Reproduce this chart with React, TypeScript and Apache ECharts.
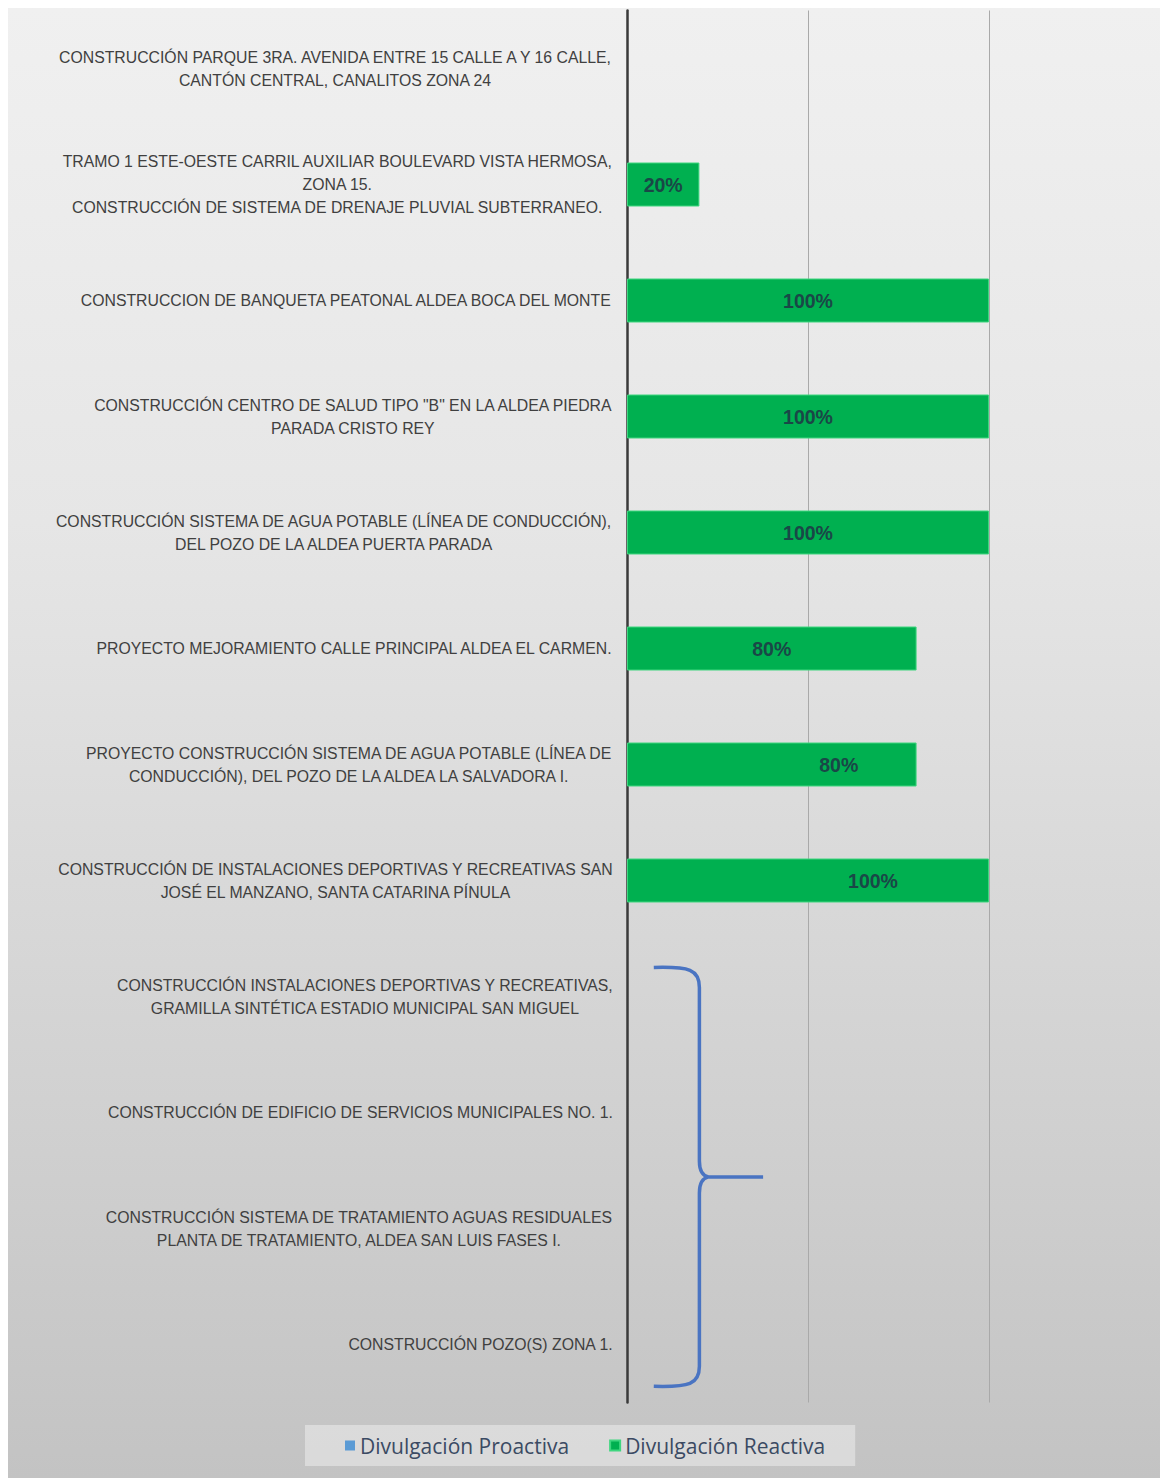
import React, { useEffect, useRef } from "react";
import * as echarts from "echarts";

const categories: string[] = [
  "CONSTRUCCIÓN PARQUE 3RA. AVENIDA ENTRE 15 CALLE A Y 16 CALLE,\nCANTÓN CENTRAL, CANALITOS ZONA 24",
  "TRAMO 1 ESTE-OESTE CARRIL AUXILIAR BOULEVARD VISTA HERMOSA,\nZONA 15.\nCONSTRUCCIÓN DE SISTEMA DE DRENAJE PLUVIAL SUBTERRANEO.",
  "CONSTRUCCION DE BANQUETA PEATONAL ALDEA BOCA DEL MONTE",
  "CONSTRUCCIÓN CENTRO DE SALUD TIPO \"B\" EN LA ALDEA PIEDRA\nPARADA CRISTO REY",
  "CONSTRUCCIÓN SISTEMA DE AGUA POTABLE (LÍNEA DE CONDUCCIÓN),\nDEL POZO DE LA ALDEA PUERTA PARADA",
  "PROYECTO MEJORAMIENTO CALLE PRINCIPAL ALDEA EL CARMEN.",
  "PROYECTO CONSTRUCCIÓN SISTEMA DE AGUA POTABLE (LÍNEA DE\nCONDUCCIÓN), DEL POZO DE LA ALDEA LA SALVADORA I.",
  "CONSTRUCCIÓN DE INSTALACIONES DEPORTIVAS Y RECREATIVAS SAN\nJOSÉ EL MANZANO, SANTA CATARINA PÍNULA",
  "CONSTRUCCIÓN INSTALACIONES DEPORTIVAS Y RECREATIVAS,\nGRAMILLA SINTÉTICA ESTADIO MUNICIPAL SAN MIGUEL",
  "CONSTRUCCIÓN DE EDIFICIO DE SERVICIOS MUNICIPALES NO. 1.",
  "CONSTRUCCIÓN SISTEMA DE TRATAMIENTO AGUAS RESIDUALES\nPLANTA DE TRATAMIENTO, ALDEA SAN LUIS FASES I.",
  "CONSTRUCCIÓN POZO(S) ZONA 1.",
];

const proactiva: (number | null)[] = [null, null, null, null, null, null, null, null, null, null, null, null];
const reactiva: (number | null)[] = [null, 0.2, 1, 1, 1, 0.8, 0.8, 1, null, null, null, null];

const seriesNames = ["Divulgación Proactiva", "Divulgación Reactiva"];

// brace annotation spans these category indices
const braceFrom = 8;
const braceTo = 11;

export default function App() {
  const ref = useRef<HTMLDivElement>(null);

  useEffect(() => {
    if (!ref.current) return;
    const chart = echarts.init(ref.current, null, { renderer: "svg" });

    const labelNudge: Record<number, number[]> = { 6: [67, 0], 7: [65, 0] };
    const reactData = reactiva.map((v, i) =>
      labelNudge[i] ? { value: v, label: { offset: labelNudge[i] } } : v
    );

    const option: any = {
      animation: false,
      backgroundColor: "transparent",
      grid: { left: 619, right: 0, top: 2.5, bottom: 75.5, containLabel: false },
      legend: {
        data: seriesNames,
        left: 297,
        top: 1417,
        icon: "rect",
        itemWidth: 10,
        itemHeight: 10,
        itemGap: 40,
        padding: [10, 30, 10, 40],
        backgroundColor: "rgba(236,236,236,0.55)",
        textStyle: { fontFamily: "Open Sans", fontSize: 21, color: "#3b4a63" },
      },
      xAxis: {
        type: "value",
        min: 0,
        max: 1.478,
        interval: 0.5,
        axisLabel: { show: false },
        axisLine: { show: false },
        axisTick: { show: false },
        splitLine: { show: true, lineStyle: { color: "#a9a9a9", width: 1 } },
      },
      yAxis: {
        type: "category",
        inverse: true,
        data: categories,
        axisLine: { show: true, lineStyle: { color: "#3a3a3a", width: 2.5 } },
        axisTick: { show: false },
        splitLine: { show: false },
        axisLabel: {
          margin: 14,
          align: "right",
          formatter: (v: string) =>
            v.split("\n").map((l) => `{c|${l}}`).join("\n"),
          rich: {
            c: {
              align: "center",
              fontFamily: "Liberation Sans",
              fontSize: 15.8,
              lineHeight: 23,
              color: "#404040",
            },
          },
        },
      },
      series: [
        {
          name: seriesNames[0],
          type: "bar",
          stack: "s",
          barWidth: 44,
          itemStyle: { color: "#5b9bd5" },
          data: proactiva,
        },
        {
          name: seriesNames[1],
          type: "bar",
          stack: "s",
          barWidth: 44,
          itemStyle: { color: "#00b050", borderColor: "#3fd67f", borderWidth: 1 },
          label: {
            show: true,
            position: "inside",
            formatter: (p: any) => `${Math.round(p.value * 100)}%`,
            fontFamily: "Liberation Sans",
            fontWeight: "bold",
            fontSize: 19.5,
            color: "#1a4747",
          },
          data: reactData,
        },
        {
          name: "brace",
          type: "custom",
          coordinateSystem: "cartesian2d",
          silent: true,
          clip: false,
          z: 10,
          data: [[0.2, braceFrom]],
          renderItem: (params: any, api: any) => {
            const band = api.size([0, 1])[1];
            const top = api.coord([0, braceFrom])[1] - 0.25 * band;
            const bottom = api.coord([0, braceTo])[1] + 0.36 * band;
            const mid = (top + bottom) / 2;
            const xL = api.coord([0.074, 0])[0];
            const xS = api.coord([0.2, 0])[0];
            const xT = api.coord([0.376, 0])[0];
            const d =
              `M${xL},${top} C${xS - 10},${top - 1} ${xS},${top + 2} ${xS},${top + 20} ` +
              `L${xS},${mid - 16} Q${xS},${mid - 2} ${xS + 9},${mid} L${xT},${mid} ` +
              `M${xS + 9},${mid} Q${xS},${mid + 2} ${xS},${mid + 16} ` +
              `L${xS},${bottom - 20} C${xS},${bottom - 2} ${xS - 10},${bottom + 1} ${xL},${bottom}`;
            return {
              type: "path",
              shape: { pathData: d },
              style: { stroke: "#4a74c2", lineWidth: 3.5, fill: "none" },
            };
          },
        },
      ],
    };

    chart.setOption(option);
    return () => chart.dispose();
  }, []);

  return (
    <div
      ref={ref}
      style={{
        width: 1154,
        height: 1470,
        background: "linear-gradient(180deg, #f0f0f0 0%, #e6e6e6 35%, #d6d6d6 65%, #c3c3c3 100%)",
      }}
    />
  );
}
